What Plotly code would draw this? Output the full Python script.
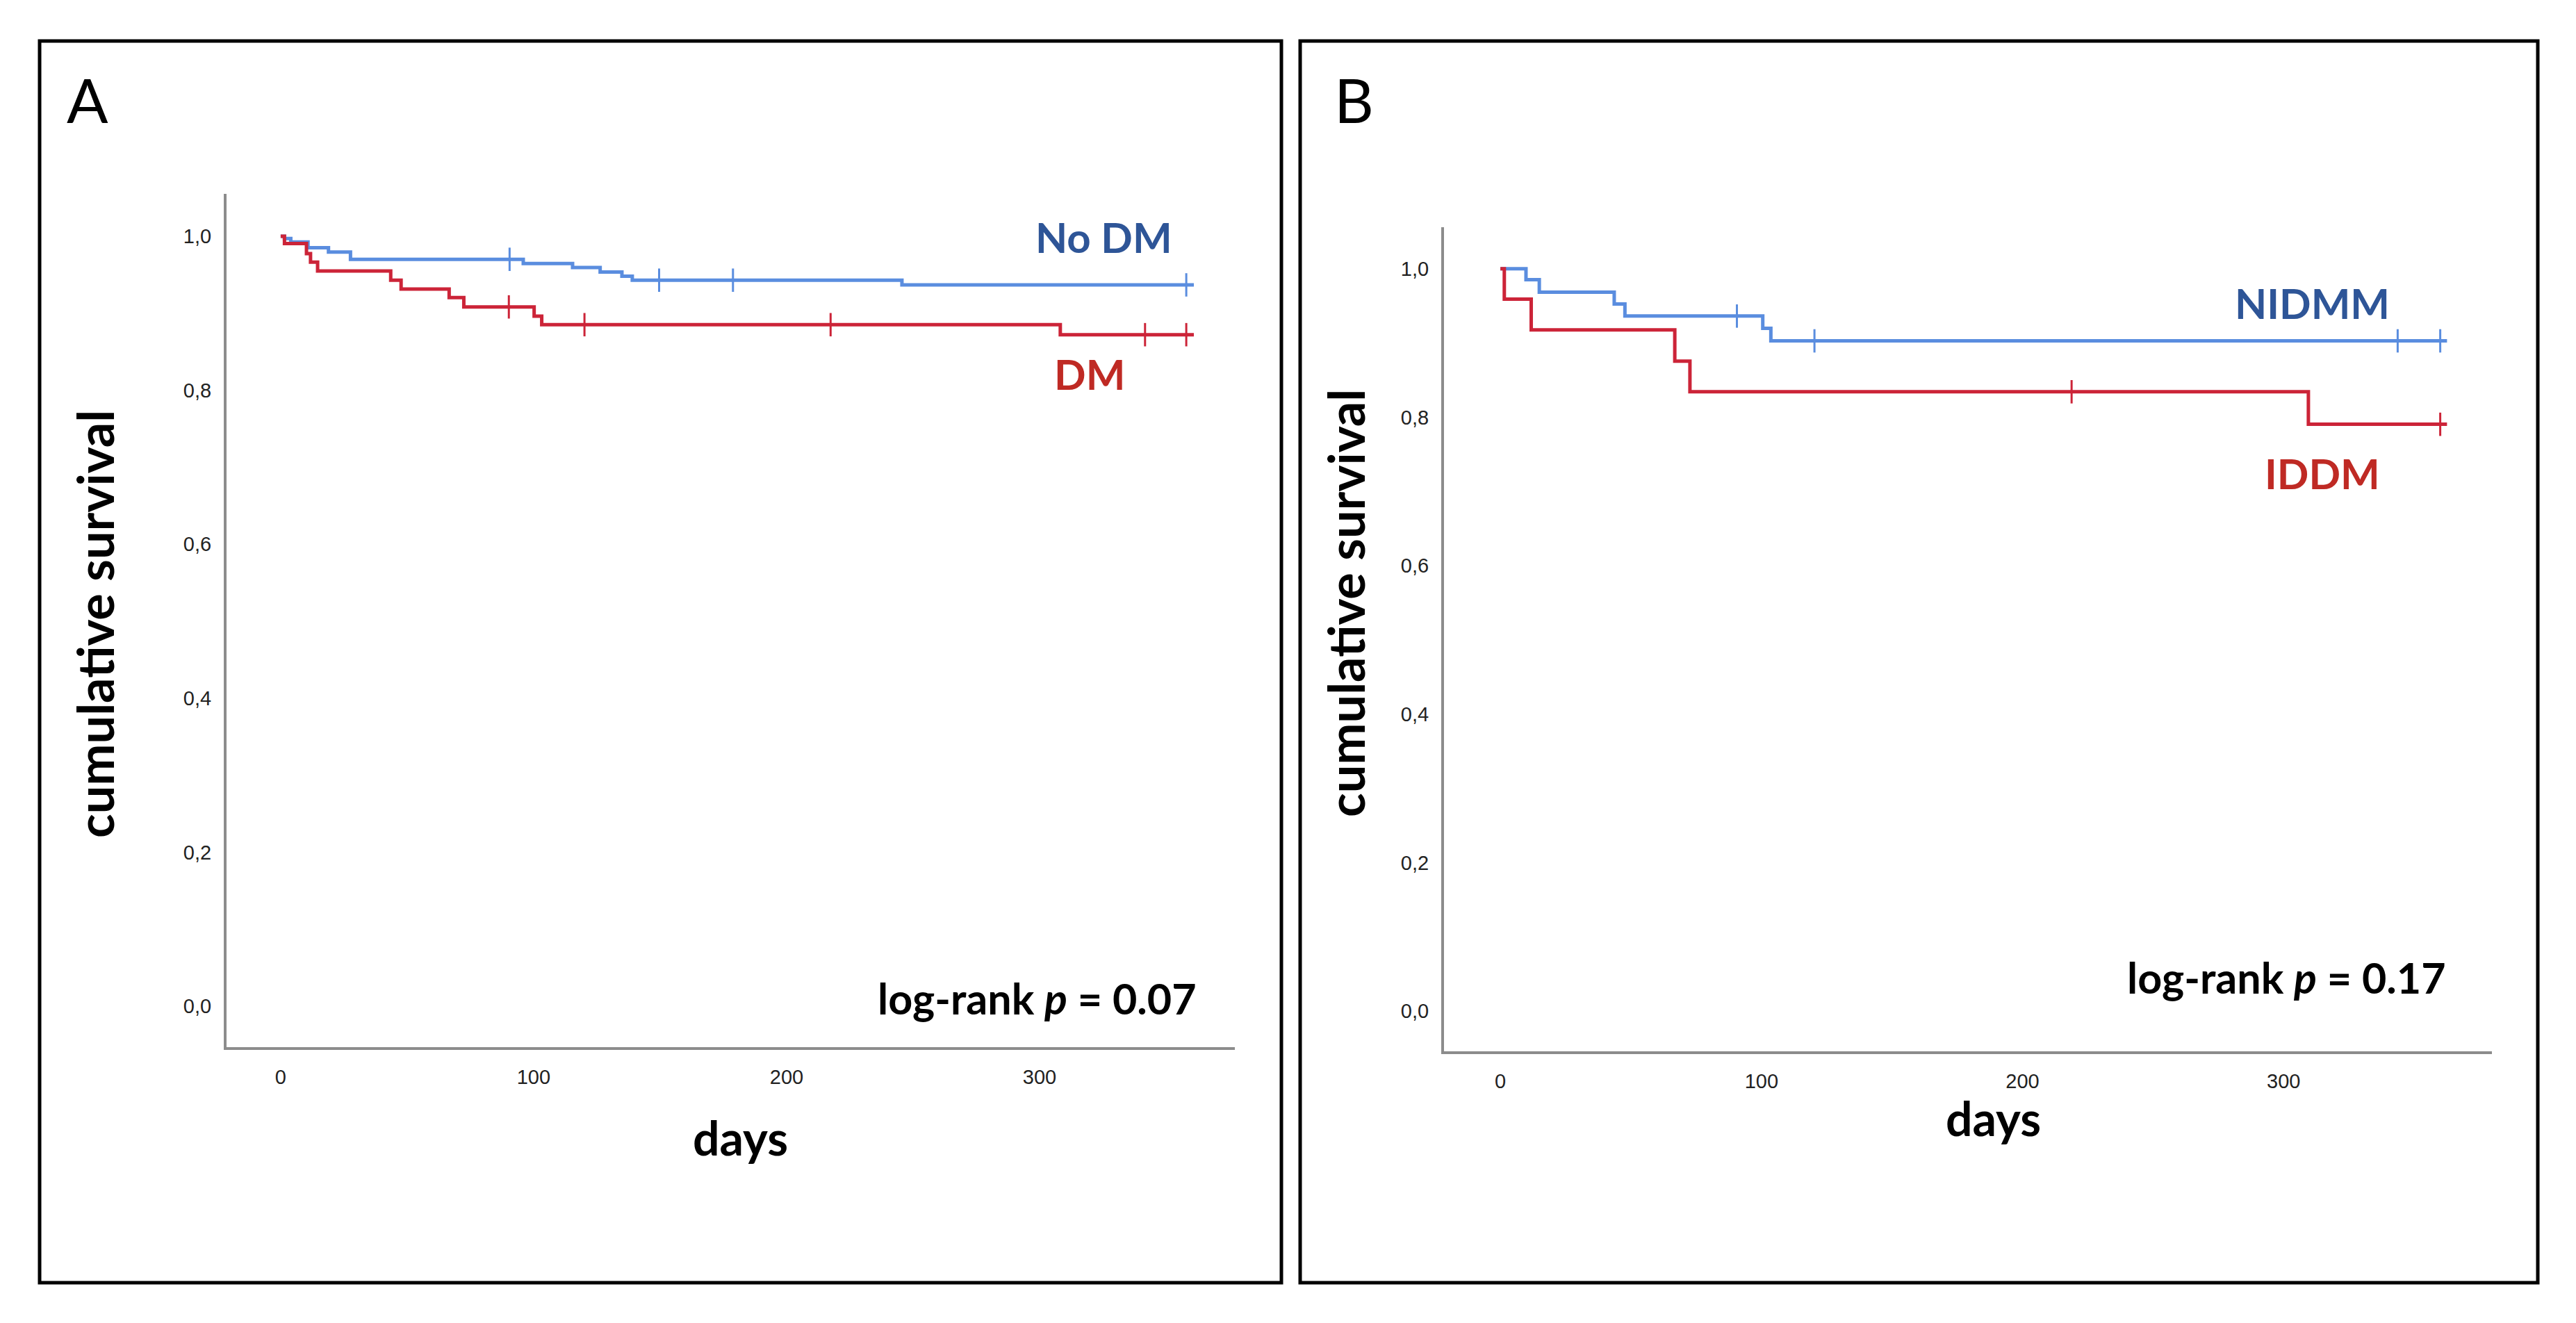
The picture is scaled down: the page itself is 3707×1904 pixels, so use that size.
import plotly.graph_objects as go

# ---------------- data ----------------
x_ticks = [0, 100, 200, 300]
y_ticks = [0.0, 0.2, 0.4, 0.6, 0.8, 1.0]
y_tick_labels = ["0,0", "0,2", "0,4", "0,6", "0,8", "1,0"]

# Panel A: No DM vs DM
a_nodm_times = [0, 1.5, 4.0, 10.8, 18.9, 27.6, 95.9, 115.4, 126.3, 134.9, 139.0, 245.6]
a_nodm_surv = [1.0, 0.997, 0.9925, 0.985, 0.9795, 0.970, 0.9645, 0.9594, 0.9534, 0.948, 0.9429, 0.9368]
a_nodm_censor = [90.5, 149.6, 178.8, 358.0]
a_nodm_end = 361.0

a_dm_times = [0, 1.5, 10.2, 11.8, 14.6, 43.5, 47.6, 66.6, 72.4, 100.2, 103.2, 308.2]
a_dm_surv = [1.0, 0.9904, 0.9774, 0.9663, 0.9549, 0.9429, 0.9314, 0.9203, 0.9082, 0.8962, 0.8851, 0.8721]
a_dm_censor = [90.2, 120.1, 217.4, 341.7, 358.0]
a_dm_end = 361.0

# Panel B: NIDMM vs IDDM
b_nidmm_times = [0, 9.8, 14.9, 43.6, 47.7, 100.5, 103.6]
b_nidmm_surv = [1.0, 0.9853, 0.9684, 0.9525, 0.9363, 0.9198, 0.9029]
b_nidmm_censor = [90.6, 120.3, 343.7, 360.0]
b_nidmm_end = 362.6

b_iddm_times = [0, 1.5, 11.8, 66.8, 72.6, 309.5]
b_iddm_surv = [1.0, 0.9591, 0.9176, 0.8755, 0.8343, 0.7905]
b_iddm_censor = [218.8, 360.0]
b_iddm_end = 362.6

# ---------------- styling ----------------
W, H = 3707, 1904
BLUE_LINE = "#5a8ddf"
RED_LINE = "#cc2438"
BLUE_TXT = "#2e5597"
RED_TXT = "#bf2a24"
BOLD_FONT = "Lato"
TICK_FONT = dict(family="Liberation Sans", size=29, color="#222222")


def px(x):
    return x / W


def py(y):
    return 1 - y / H


def surv_at(times, surv, t):
    val = surv[0]
    for ti, si in zip(times, surv):
        if ti <= t:
            val = si
    return val


fig = go.Figure()


def add_curve(times, surv, censor, end, color, xa, ya, name):
    xs = list(times) + [end]
    ys = list(surv) + [surv[-1]]
    fig.add_trace(go.Scatter(x=xs, y=ys, mode="lines", line=dict(color=color, width=5, shape="hv"),
                             xaxis=xa, yaxis=ya, name=name, showlegend=False, hoverinfo="skip"))
    cy = [surv_at(times, surv, t) for t in censor]
    fig.add_trace(go.Scatter(x=censor, y=cy, mode="markers",
                             marker=dict(symbol="line-ns", size=24, line=dict(color=color, width=3)),
                             xaxis=xa, yaxis=ya, showlegend=False, hoverinfo="skip"))


add_curve(a_nodm_times, a_nodm_surv, a_nodm_censor, a_nodm_end, BLUE_LINE, "x", "y", "No DM")
add_curve(a_dm_times, a_dm_surv, a_dm_censor, a_dm_end, RED_LINE, "x", "y", "DM")
add_curve(b_nidmm_times, b_nidmm_surv, b_nidmm_censor, b_nidmm_end, BLUE_LINE, "x2", "y2", "NIDMM")
add_curve(b_iddm_times, b_iddm_surv, b_iddm_censor, b_iddm_end, RED_LINE, "x2", "y2", "IDDM")

axis_common = dict(showline=True, linecolor="#8c8c8c", linewidth=4, showgrid=False, zeroline=False,
                   ticks="", tickfont=TICK_FONT, mirror=False, fixedrange=True)

fig.update_layout(
    width=W, height=H, margin=dict(l=0, r=0, t=0, b=0, pad=0),
    paper_bgcolor="white", plot_bgcolor="white",
    xaxis=dict(domain=[px(326), px(1777)], range=[-21.4, 377.2], anchor="y",
               tickvals=x_ticks, ticklabelstandoff=14, **axis_common),
    yaxis=dict(domain=[py(1507), py(279)], range=[-0.0532, 1.055], anchor="x",
               tickvals=y_ticks, ticktext=y_tick_labels, ticklabelstandoff=12, **axis_common),
    xaxis2=dict(domain=[px(2078), px(3586)], range=[-21.6, 379.8], anchor="y2",
                tickvals=x_ticks, ticklabelstandoff=14, **axis_common),
    yaxis2=dict(domain=[py(1513), py(327)], range=[-0.0543, 1.056], anchor="x2",
                tickvals=y_ticks, ticktext=y_tick_labels, ticklabelstandoff=12, **axis_common),
)

# panel frames
for x0, x1 in [(57, 1844), (1871, 3652)]:
    fig.add_shape(type="rect", xref="paper", yref="paper", x0=px(x0), x1=px(x1), y0=py(1846), y1=py(59),
                  line=dict(color="black", width=5), fillcolor="rgba(0,0,0,0)", layer="above")


def ann(text, x, y, size, color="black", bold=True, xanchor="center", angle=0, family=BOLD_FONT):
    fig.add_annotation(text=(f"<b>{text}</b>" if bold else text), x=px(x), y=py(y), xref="paper", yref="paper",
                       xanchor=xanchor, yanchor="middle", showarrow=False, textangle=angle,
                       font=dict(family=family, size=size, color=color))


# panel letters
ann("A", 126, 143, 88, bold=False)
ann("B", 1948, 143, 88, bold=False)

# axis titles
ann("cumulative survival", 136, 898, 72, angle=-90)
ann("cumulative survival", 1936, 868, 72, angle=-90)
ann("days", 1065, 1636, 68)
ann("days", 2868, 1608, 68)

# group labels
ann("No DM", 1588, 341, 60, color=BLUE_TXT)
ann("DM", 1568, 538, 60, color=RED_TXT)
ann("NIDMM", 3327, 436, 60, color=BLUE_TXT)
ann("IDDM", 3342, 681, 60, color=RED_TXT)

# log-rank texts
ann("log-rank <i>p</i> = 0.07", 1724, 1436, 61, xanchor="right")
ann("log-rank <i>p</i> = 0.17", 3522, 1406, 61, xanchor="right")

fig.write_html("out.html", config={"displayModeBar": False},
               post_script="document.body.style.margin='0px';")
